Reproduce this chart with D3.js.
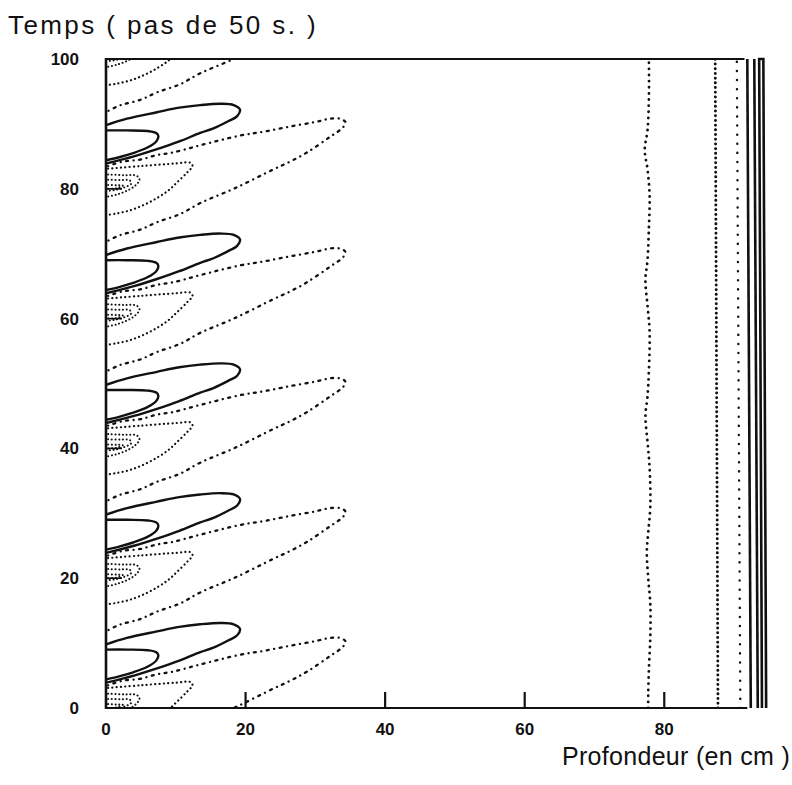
<!DOCTYPE html>
<html>
<head>
<meta charset="utf-8">
<script src="https://cdn.jsdelivr.net/npm/d3@7"></script>
<style>
  body { margin: 0; background: #fff; }
  svg { display: block; }
</style>
</head>
<body>
<svg id="chart" width="792" height="785"></svg>
<script>
// Heat wave in the soil: isotherms versus depth (cm) and time (steps of 50 s).
// Each forcing cycle lasts 20 steps; the isotherm pattern of one cycle is
// given as [depth, step within cycle] and repeated at every cycle start.

const xTicks = [0, 20, 40, 60, 80];
const yTicks = [0, 20, 40, 60, 80, 100];
const cycleStarts = [0, 20, 40, 60, 80, 100];

// warm isotherms (solid)
const outerSolid = [[0,9.8],[3,10.8],[7.3,11.8],[10.5,12.5],[13.5,12.9],[16.5,13.1],[18.3,12.9],[19.2,12.2],[18.8,11.2],[17.5,10.4],[15.4,9.3],[13.5,8.6],[10.5,7.3],[7.3,6.1],[4,5.0],[0,3.9]];
const innerSolid = [[0,9.0],[3,9.0],[6,8.9],[7.2,8.6],[7.5,8.1],[7.2,7.3],[6,6.4],[3.9,5.5],[2,4.9],[0,4.4]];
// cooler isotherms (dotted)
const bigLobe = [[0.3,3.5],[2.4,4.2],[4.9,4.5],[7.3,5.2],[9.6,5.6],[13.5,6.7],[19.2,8.2],[22.6,8.8],[26.4,9.6],[30,10.3],[32.1,10.8],[33.5,10.8],[34.3,10.3],[34.0,9.5],[32.1,8.0],[28.8,5.6],[26.4,4.2],[24,3.0],[18.5,0.1],[13.5,-2.2],[10.6,-3.9],[7.3,-5.15],[4.9,-6.3],[2.0,-7.15],[0.3,-8.0]];
const midLobe = [[0.3,3.1],[5,3.5],[10,3.9],[12.1,4.0],[12.4,3.5],[11.7,2.6],[10.2,1.0],[9,-0.2],[7.5,-1.3],[5.6,-2.4],[3.5,-3.3],[1.5,-3.8],[0.3,-4.0]];
const smallLobeA = [[0.3,2.2],[2.5,2.1],[4.4,2.0],[4.8,1.4],[4.2,0.5],[3,-0.3],[1.5,-0.9],[0.3,-1.2]];
const smallLobeB = [[0.3,1.4],[2,1.35],[3.4,1.3],[3.6,0.8],[2.6,0.2],[1.2,-0.2],[0.3,-0.3]];
const smallLobeC = [[0.3,0.6],[1.5,0.55],[2.4,0.5],[1.6,0.1],[0.3,0.0]];

// deep isotherms (nearly steady), [depth, step]
const deepWavy = [[77.7,0],[77.7,2],[77.8,6],[78.0,11],[78.0,16],[77.7,20],[77.5,24],[77.7,27],[78.0,31],[77.9,37],[77.6,41],[77.3,45],[77.6,48],[77.8,52],[77.9,58],[77.6,62],[77.3,66],[77.6,69],[77.8,74],[77.9,79],[77.6,83],[77.2,86],[77.6,89],[77.8,94],[77.8,100]];
const deepDense = [[87.7,0],[87.3,100]];
const deepSparse = [[90.9,0],[90.4,100]];
const bottomSolid1 = [[92.4,0],[91.9,100]];
const bottomSolid2 = [[93.4,0],[92.9,100]];
const bottomSolid3 = [[94.0,0],[93.6,100],[94.2,100],[94.6,0]];

const cycleContours = [
  { pts: outerSolid, dash: null, w: 2.4 },
  { pts: innerSolid, dash: null, w: 2.4 },
  { pts: bigLobe, dash: "0.1,5.5,2,5.5", w: 2.3 },
  { pts: midLobe, dash: "0.1,4.2", w: 2.2 },
  { pts: smallLobeA, dash: "0.1,3.6", w: 2.0 },
  { pts: smallLobeB, dash: "0.1,3.6", w: 2.0 },
  { pts: smallLobeC, dash: "0.1,3.6", w: 2.0 }
];

const svg = d3.select("#chart");
const x = d3.scaleLinear().domain([0, 92]).range([106, 748]);
const y = d3.scaleLinear().domain([0, 100]).range([708, 59]);

const font = "'Liberation Sans', Arial, Helvetica, sans-serif";

svg.append("defs").append("clipPath").attr("id", "plot-clip")
  .append("rect")
  .attr("x", x(0)).attr("y", y(100))
  .attr("width", x(92) - x(0)).attr("height", y(0) - y(100));

const line = d3.line().x(d => x(d[0])).y(d => y(d[1])).curve(d3.curveCatmullRom.alpha(0.5));
const straight = d3.line().x(d => x(d[0])).y(d => y(d[1]));

const plot = svg.append("g").attr("clip-path", "url(#plot-clip)");

cycleStarts.forEach(c => {
  cycleContours.forEach(k => {
    plot.append("path")
      .attr("d", line(k.pts.map(p => [p[0], p[1] + c])))
      .attr("fill", "none")
      .attr("stroke", "#111")
      .attr("stroke-width", k.w)
      .attr("stroke-linecap", "round")
      .attr("stroke-linejoin", "round")
      .attr("stroke-dasharray", k.dash);
  });
});

plot.append("path").attr("d", line(deepWavy))
  .attr("fill", "none").attr("stroke", "#111").attr("stroke-width", 2.8)
  .attr("stroke-linecap", "round").attr("stroke-dasharray", "0.1,6");
plot.append("path").attr("d", straight(deepDense))
  .attr("fill", "none").attr("stroke", "#111").attr("stroke-width", 2.9)
  .attr("stroke-linecap", "round").attr("stroke-dasharray", "0.1,4.6");
plot.append("path").attr("d", straight(deepSparse))
  .attr("fill", "none").attr("stroke", "#111").attr("stroke-width", 2.4)
  .attr("stroke-linecap", "round").attr("stroke-dasharray", "0.1,9");

[bottomSolid1, bottomSolid2, bottomSolid3].forEach(p => {
  svg.append("path").attr("d", straight(p))
    .attr("fill", "none").attr("stroke", "#111").attr("stroke-width", 2.6)
    .attr("stroke-linejoin", "miter");
});

// frame: left axis, bottom axis, top border
const axisG = svg.append("g").attr("stroke", "#111").attr("fill", "none");
axisG.append("line").attr("x1", x(0)).attr("x2", x(0)).attr("y1", y(100) - 1).attr("y2", y(0) + 1).attr("stroke-width", 2.6);
axisG.append("line").attr("x1", x(0)).attr("x2", x(91.9)).attr("y1", y(0)).attr("y2", y(0)).attr("stroke-width", 2.2);
axisG.append("line").attr("x1", x(0)).attr("x2", x(91.5)).attr("y1", y(100)).attr("y2", y(100)).attr("stroke-width", 2.2);

// inward tick marks
xTicks.filter(t => t > 0).forEach(t => {
  axisG.append("line").attr("x1", x(t)).attr("x2", x(t)).attr("y1", y(0)).attr("y2", y(0) - 16).attr("stroke-width", 2.2);
});
yTicks.filter(t => t > 0 && t < 100).forEach(t => {
  axisG.append("line").attr("x1", x(0)).attr("x2", x(0) + 16).attr("y1", y(t)).attr("y2", y(t)).attr("stroke-width", 1.6);
});

// tick labels
svg.append("g").selectAll("text").data(xTicks).join("text")
  .attr("x", d => x(d)).attr("y", 735)
  .attr("text-anchor", "middle")
  .attr("font-family", font).attr("font-weight", "bold").attr("font-size", 17)
  .attr("fill", "#111").text(d => d);
svg.append("g").selectAll("text").data(yTicks).join("text")
  .attr("x", 79).attr("y", d => y(d) + 6)
  .attr("text-anchor", "end")
  .attr("font-family", font).attr("font-weight", "bold").attr("font-size", 17)
  .attr("fill", "#111").text(d => d);

// axis titles
svg.append("text").attr("x", 8).attr("y", 34)
  .attr("font-family", font).attr("font-size", 26).attr("letter-spacing", 2.4)
  .attr("fill", "#111")
  .text("Temps ( pas de 50 s. )");
svg.append("text").attr("x", 562).attr("y", 765)
  .attr("font-family", font).attr("font-size", 25).attr("letter-spacing", 0.3)
  .attr("fill", "#111")
  .text("Profondeur (en cm )");
</script>
</body>
</html>
